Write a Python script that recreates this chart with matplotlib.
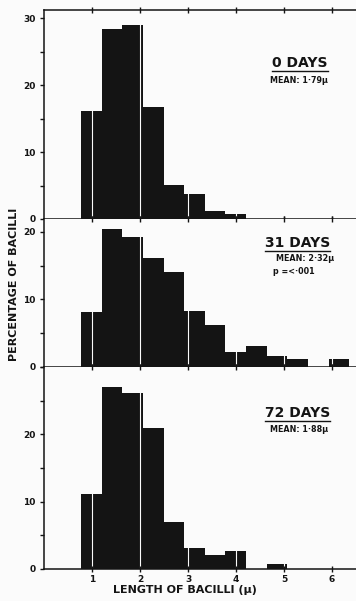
import matplotlib
matplotlib.use("Agg")
import matplotlib.pyplot as plt
from matplotlib.lines import Line2D

# bin left edges (length of bacilli, micron)
bin_left = [0.77, 1.20, 1.63, 2.06, 2.49, 2.92, 3.35, 3.78, 4.21, 4.64, 5.07, 5.50, 5.93]
bin_width = 0.43

pct_0days = [16.1, 28.4, 29.0, 16.7, 5.1, 3.8, 1.2, 0.7, 0, 0, 0, 0, 0]
pct_31days = [8.1, 20.4, 19.3, 16.1, 14.1, 8.3, 6.2, 2.2, 3.1, 1.6, 1.2, 0, 1.2]
pct_72days = [11.1, 27.1, 26.2, 21.0, 7.0, 3.1, 2.1, 2.7, 0, 0.7, 0, 0, 0]

titles = ["0 DAYS", "31 DAYS", "72 DAYS"]
notes = [["MEAN: 1·79μ"], ["MEAN: 2·32μ", "p =<·001"], ["MEAN: 1·88μ"]]
x_ticks = [1, 2, 3, 4, 5, 6]
ylims = [31.2, 21.9, 29.9]
ymajor = [[0, 10, 20, 30], [0, 10, 20], [0, 10, 20]]
yminor = [[5, 15, 25], [5, 15], [5, 15, 25, 30]]

plt.rcParams['font.family'] = ['DejaVu Sans']
plt.rcParams['font.weight'] = 'bold'

W, H = 356, 601
bg = '#fbfbfb'
fig = plt.figure(figsize=(W / 100, H / 100), dpi=100, facecolor=bg)

# panel extents in pixels (top, bottom)
panels_px = [(10, 219), (219, 367), (367, 569)]
left_px = 44
axes = []
for (t, b) in panels_px:
    ax = fig.add_axes([left_px / W, 1 - b / H, 1 - left_px / W, (b - t) / H])
    axes.append(ax)

data = [pct_0days, pct_31days, pct_72days]
ink = '#141414'
for i, ax in enumerate(axes):
    ax.set_facecolor(bg)
    ax.bar(bin_left, data[i], width=bin_width, align='edge', color=ink,
           edgecolor='none', zorder=1)
    for xv in x_ticks:
        ax.axvline(xv, color=bg, lw=0.8, zorder=1.5)
    ax.set_xlim(0, 6.5)
    ax.set_ylim(0, ylims[i])
    ax.set_xticks(x_ticks)
    ax.set_yticks(ymajor[i])
    ax.set_yticks(yminor[i], minor=True)
    ax.tick_params(axis='x', which='both', direction='inout', length=4, width=1,
                   top=True, bottom=True, color=ink, labelsize=6.5,
                   labelbottom=(i == 2), pad=2)
    ax.tick_params(axis='y', which='major', direction='out', length=3, width=1,
                   color=ink, labelsize=6.5, pad=3)
    ax.tick_params(axis='y', which='minor', direction='out', length=3, width=1,
                   color=ink)
    for s in ['left', 'top', 'bottom']:
        ax.spines[s].set_linewidth(1.1)
        ax.spines[s].set_color(ink)
    ax.spines['right'].set_visible(False)
    if i > 0:
        ax.spines['top'].set_visible(False)
    for lab in ax.get_xticklabels() + ax.get_yticklabels():
        lab.set_fontweight('bold')
        lab.set_color(ink)

# annotation positions (axes fraction)
title_pos = [(0.91, 0.746), (0.917, 0.838), (0.917, 0.772)]
note_pos = [[(0.91, 0.665)], [(0.93, 0.736), (0.80, 0.642)], [(0.91, 0.693)]]
title_texts = []
for i, ax in enumerate(axes):
    tt = ax.text(title_pos[i][0], title_pos[i][1], titles[i], transform=ax.transAxes,
                 ha='right', va='center', fontsize=10, fontweight='bold', color=ink)
    title_texts.append(tt)
    for j, n in enumerate(notes[i]):
        x, y = note_pos[i][j]
        ax.text(x, y, n, transform=ax.transAxes, ha='right' if j == 0 else 'center',
                va='center', fontsize=5.8, fontweight='bold', color=ink)

fig.canvas.draw()
inv = fig.transFigure.inverted()
for tt in title_texts:
    bb = tt.get_window_extent()
    (x0, y0), (x1, y1) = inv.transform([(bb.x0, bb.y0), (bb.x1, bb.y1)])
    fig.add_artist(Line2D([x0, x1], [y0 - 0.002, y0 - 0.002], transform=fig.transFigure,
                          color=ink, lw=1.0))

fig.text(14 / W, 1 - 284 / H, "PERCENTAGE OF BACILLI", rotation=90, ha='center',
         va='center', fontsize=8, fontweight='bold', color=ink)
fig.text(185 / W, 1 - 590 / H, "LENGTH OF BACILLI (μ)", ha='center', va='center',
         fontsize=8, fontweight='bold', color=ink)

fig.savefig("out.png", dpi=100, facecolor=fig.get_facecolor())
